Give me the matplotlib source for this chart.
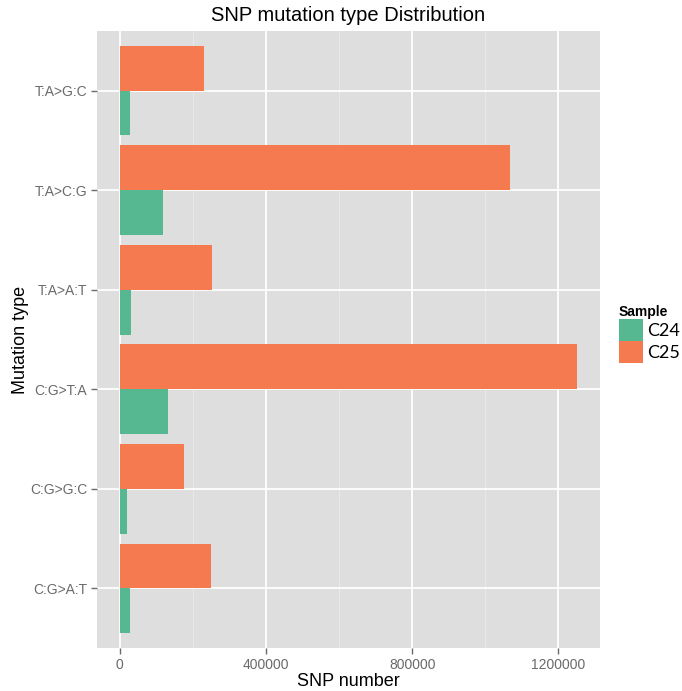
import numpy as np
import matplotlib
matplotlib.use("Agg")
import matplotlib.pyplot as plt
from matplotlib.ticker import FixedLocator

# Data
categories = ["C:G>A:T", "C:G>G:C", "C:G>T:A", "T:A>A:T", "T:A>C:G", "T:A>G:C"]
c24_values = [29000, 19000, 132000, 30000, 118000, 27000]
c25_values = [249000, 176000, 1251000, 252000, 1068000, 230000]
series_labels = ["C24", "C25"]
x_ticks = [0, 400000, 800000, 1200000]
x_minor = [200000, 600000, 1000000]

col_c24 = "#55B891"
col_c25 = "#F57A4F"
panel_bg = "#DEDEDE"
tick_col = "#6A6A6A"

plt.rcParams["font.family"] = ["Liberation Sans", "DejaVu Sans"]

fig = plt.figure(figsize=(6.82, 6.91), dpi=100)
ax = fig.add_axes([97 / 682, 1 - 648 / 691, (600 - 97) / 682, (648 - 31) / 691])
ax.set_facecolor(panel_bg)

pos = np.arange(1, len(categories) + 1)
h = 0.45
b24 = ax.barh(pos - h / 2, c24_values, height=h, color=col_c24, zorder=3,
              label=series_labels[0])
b25 = ax.barh(pos + h / 2, c25_values, height=h, color=col_c25, zorder=3,
              label=series_labels[1])

vmax = max(max(c24_values), max(c25_values))
ax.set_xlim(-0.05 * vmax, 1.05 * vmax)
ax.set_ylim(0.4, len(categories) + 0.6)

ax.set_xticks(x_ticks)
ax.set_xticklabels([str(t) for t in x_ticks])
ax.xaxis.set_minor_locator(FixedLocator(x_minor))
ax.set_yticks(pos)
ax.set_yticklabels(categories)

ax.grid(which="major", color="white", linewidth=1.3, zorder=1)
ax.grid(which="minor", axis="x", color="#EBEBEB", linewidth=0.6, zorder=1)
for s in ax.spines.values():
    s.set_visible(False)

ax.tick_params(axis="both", which="major", length=4, width=1, color=tick_col,
               labelcolor=tick_col, labelsize=10, pad=3)
ax.tick_params(axis="x", which="minor", length=0)

ax.set_title("SNP mutation type Distribution", fontsize=14.5, pad=7, color="black")
ax.set_xlabel("SNP number", fontsize=13, labelpad=1, color="black")
ax.set_ylabel("Mutation type", fontsize=13, labelpad=1, color="black")

leg = ax.legend(handles=[b24, b25], labels=series_labels, title="Sample",
                loc="upper left", bbox_to_anchor=(619 / 682, 1 - 305 / 691),
                bbox_transform=fig.transFigure, frameon=False,
                borderpad=0, borderaxespad=0, labelspacing=0.0,
                handlelength=1.35, handleheight=1.5, handletextpad=0.2,
                prop={"family": ["Lato", "DejaVu Sans"], "size": 13},
                alignment="left")
leg.get_title().set_fontweight("bold")
leg.get_title().set_fontsize(10)

fig.savefig("out.png", dpi=100)
